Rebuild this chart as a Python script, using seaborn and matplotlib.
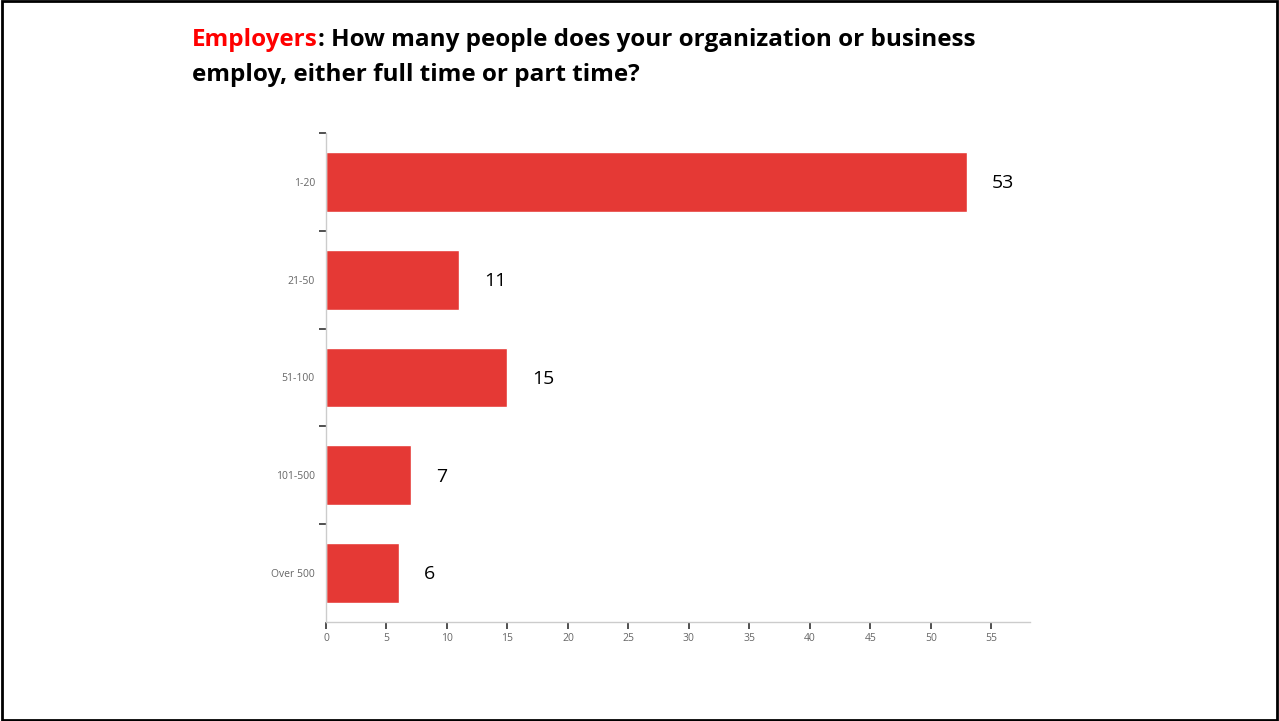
import numpy as np
import pandas as pd
import matplotlib
matplotlib.use("Agg")
import matplotlib.pyplot as plt
from matplotlib.patches import Rectangle
import seaborn as sns

categories = ["1-20", "21-50", "51-100", "101-500", "Over 500"]
counts = [53, 11, 15, 7, 6]
x_ticks = [0, 5, 10, 15, 20, 25, 30, 35, 40, 45, 50, 55]

df = pd.DataFrame({"size": categories, "count": counts})

sns.set_style("white")
plt.rcParams["font.family"] = ["Open Sans", "DejaVu Sans"]

fig = plt.figure(figsize=(12.79, 7.21), dpi=100)
ax = fig.add_axes([326 / 1279, 1 - 622 / 721, (1030 - 326) / 1279, (622 - 133) / 721])

sns.barplot(data=df, y="size", x="count", order=categories, color="#E53935",
            saturation=1, width=0.61, ax=ax)

ax.set_xlim(0, 58.2)
ax.set_ylim(4.5, -0.5)
ax.set_xticks(x_ticks)
ax.set_xticklabels([str(t) for t in x_ticks], fontsize=7.5, color="#666666")
ax.set_yticks(range(len(categories)))
ax.set_yticklabels(categories, fontsize=7.5, color="#666666")
# boundary ticks between categories (none at the bottom corner)
ax.set_yticks(np.arange(-0.5, len(categories) - 1), minor=True)
ax.tick_params(axis="y", which="major", left=True, length=0, pad=8)
ax.tick_params(axis="y", which="minor", left=True, length=5, width=1.2, color="#333333")
ax.tick_params(axis="x", which="major", bottom=True, length=5, width=1.2,
               color="#333333", pad=3)
ax.set_xlabel("")
ax.set_ylabel("")

for s in ["top", "right"]:
    ax.spines[s].set_visible(False)
for s in ["left", "bottom"]:
    ax.spines[s].set_color("#cccccc")
    ax.spines[s].set_linewidth(1)

for i, v in enumerate(counts):
    ax.annotate(str(v), (v, i), xytext=(18, -1), textcoords="offset points",
                fontsize=14, va="center", ha="left", color="black")

# two-colour title
t1 = fig.text(192 / 1279, 1 - 40 / 721, "Employers", color="#FF0000",
              fontsize=17.5, fontweight="bold", va="center", ha="left")
fig.canvas.draw()
bb = t1.get_window_extent()
fig.text(bb.x1 / 1279, 1 - 40 / 721,
         ": How many people does your organization or business",
         color="black", fontsize=17.5, fontweight="bold", va="center", ha="left")
fig.text(192 / 1279, 1 - 75 / 721, "employ, either full time or part time?",
         color="black", fontsize=17.5, fontweight="bold", va="center", ha="left")

fig.patches.append(Rectangle((0.0015, 0.002), 0.997, 0.996, transform=fig.transFigure,
                             fill=False, edgecolor="black", linewidth=2))

fig.savefig("out.png", dpi=100)
